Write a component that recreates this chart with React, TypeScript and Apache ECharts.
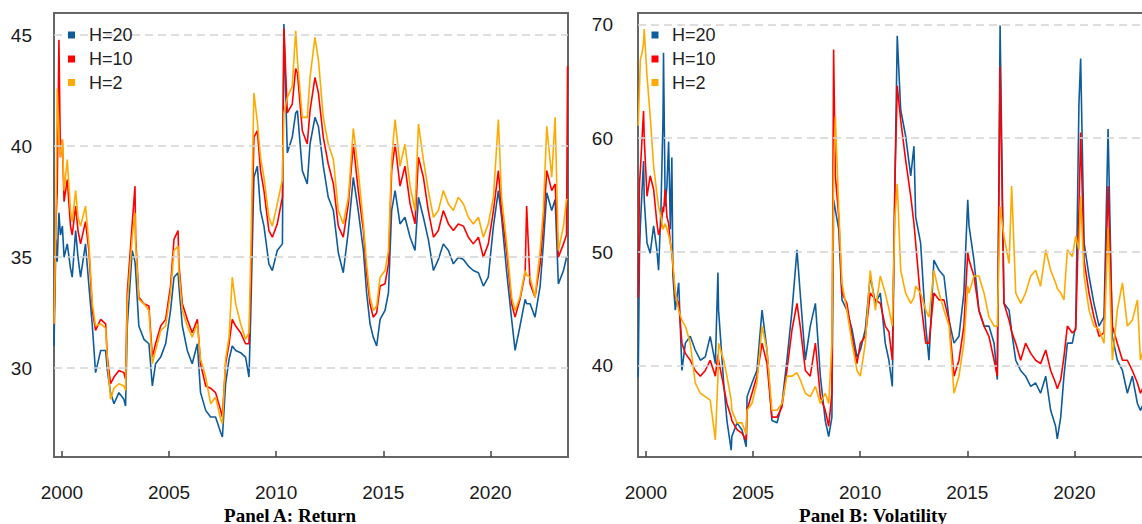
import React, { useEffect, useRef } from "react";
import * as echarts from "echarts";

// ---------- Panel A: Return ----------
const yearsA = [
  1999.63, 1999.72, 1999.78, 1999.86, 1999.93, 2000.02, 2000.1, 2000.25, 2000.4, 2000.48, 2000.64, 2000.75, 2000.87,
  2001.1, 2001.26, 2001.42, 2001.57, 2001.81, 2002.04, 2002.12, 2002.27, 2002.43, 2002.66, 2002.89, 2002.97, 2003.05,
  2003.28, 2003.41, 2003.44, 2003.59, 2003.83, 2004.06, 2004.22, 2004.37, 2004.61, 2004.84, 2005.07, 2005.23, 2005.42,
  2005.46, 2005.62, 2005.85, 2006.08, 2006.32, 2006.47, 2006.71, 2006.94, 2007.17, 2007.41, 2007.49, 2007.64, 2007.8,
  2007.95, 2008.11, 2008.34, 2008.57, 2008.73, 2008.81, 2008.96, 2009.12, 2009.27, 2009.43, 2009.66, 2009.82, 2010.05,
  2010.29, 2010.36, 2010.52, 2010.75, 2010.91, 2010.99, 2011.22, 2011.45, 2011.58, 2011.81, 2011.97, 2012.2, 2012.43,
  2012.67, 2012.9, 2013.13, 2013.37, 2013.6, 2013.83, 2014.07, 2014.22, 2014.38, 2014.53, 2014.69, 2014.85, 2015.08,
  2015.24, 2015.39, 2015.55, 2015.78, 2016.01, 2016.25, 2016.48, 2016.64, 2016.87, 2017.1, 2017.34, 2017.57, 2017.8,
  2018.04, 2018.27, 2018.5, 2018.74, 2018.97, 2019.2, 2019.44, 2019.67, 2019.9, 2020.14, 2020.37, 2020.52, 2020.76,
  2020.99, 2021.15, 2021.38, 2021.62, 2021.69, 2021.85, 2022.08, 2022.32, 2022.47, 2022.63, 2022.86, 2023.02, 2023.17,
  2023.41, 2023.55, 2023.6,
];
const retH20 = [
  31.0, 35.8, 34.8, 37.0, 36.0, 36.4, 35.0, 35.6, 34.5, 34.1, 36.2, 35.0, 34.1,
  35.6, 33.7, 31.9, 29.8, 30.8, 30.8, 29.9, 28.9, 28.4, 28.9, 28.6, 28.3, 31.9,
  35.3, 34.8, 34.4, 31.9, 31.3, 31.1, 29.2, 30.2, 30.5, 31.1, 32.6, 34.1, 34.3,
  33.7, 31.9, 30.8, 30.2, 31.1, 28.9, 28.1, 27.8, 27.8, 27.1, 26.9, 29.3, 30.4,
  31.0, 30.8, 30.7, 30.5, 29.6, 32.3, 38.6, 39.1, 37.1, 36.4, 34.7, 34.4, 35.3,
  35.6, 45.5, 39.7, 40.4, 41.5, 41.6, 38.9, 38.3, 40.1, 41.3, 40.9, 39.1, 37.7,
  37.1, 35.2, 34.3, 36.2, 38.6, 37.1, 35.3, 33.4, 32.0, 31.4, 31.0, 32.2, 32.6,
  33.4, 37.1, 38.0, 36.5, 36.8, 35.9, 35.3, 37.7, 36.8, 35.8, 34.4, 34.9, 35.6,
  35.3, 34.7, 35.0, 34.9, 34.6, 34.4, 34.3, 33.7, 34.1, 36.4, 38.0, 36.8, 34.3,
  32.2, 30.8, 31.9, 33.1, 32.9, 32.9, 32.3, 33.7, 35.6, 37.9, 37.1, 37.6, 33.8,
  34.4, 35.0, 35.0,
];
const retH10 = [
  32.0, 36.5, 38.0, 44.8, 39.5, 40.3, 37.5, 38.5, 36.4, 36.0, 37.3, 36.2, 35.6,
  36.6, 35.3, 32.6, 31.7, 32.2, 32.0, 30.5, 29.3, 29.6, 29.9, 29.8, 29.5, 33.4,
  36.5, 38.2, 35.9, 33.2, 32.9, 32.8, 30.5, 31.1, 31.9, 32.2, 33.7, 35.8, 36.2,
  34.7, 32.9, 32.2, 31.6, 32.2, 30.2, 29.2, 29.1, 28.9, 28.1, 27.8, 30.2, 31.1,
  32.2, 31.9, 31.6, 31.1, 31.1, 33.5, 40.4, 40.7, 38.9, 38.0, 36.2, 35.9, 36.5,
  37.7, 45.3, 41.5, 41.9, 43.5, 43.3, 40.7, 40.1, 41.6, 43.1, 42.4, 40.4, 39.2,
  38.3, 36.4, 35.9, 37.4, 40.1, 38.0, 36.2, 34.3, 32.9, 32.3, 32.5, 33.7, 33.8,
  34.7, 38.9, 40.1, 38.2, 39.1, 37.4, 36.5, 39.5, 38.6, 37.1, 35.9, 36.2, 37.1,
  36.5, 36.2, 36.5, 36.4, 35.9, 35.6, 35.9, 35.0, 35.6, 37.1, 38.9, 37.1, 35.2,
  32.9, 32.3, 33.1, 34.3, 37.3, 33.8, 33.2, 34.7, 36.5, 38.9, 38.0, 38.3, 35.0,
  35.6, 36.0, 43.6,
];
const retH2 = [
  32.0, 36.5, 42.6, 40.5, 39.5, 40.3, 38.0, 39.4, 37.1, 36.6, 38.0, 36.8, 36.4,
  37.3, 35.6, 32.9, 31.9, 32.0, 31.8, 30.4, 28.6, 29.1, 29.3, 29.2, 29.0, 32.9,
  35.9, 37.0, 35.6, 33.1, 32.9, 32.6, 30.2, 30.8, 31.7, 31.9, 33.4, 35.3, 35.5,
  34.4, 32.6, 31.9, 31.4, 32.0, 30.4, 29.6, 28.4, 28.7, 27.7, 27.5, 30.4, 31.4,
  34.1, 32.9, 32.0, 31.3, 31.6, 34.9, 42.4, 41.1, 39.5, 38.6, 36.8, 36.4, 37.4,
  38.5, 41.5, 42.2, 42.7, 45.2, 43.9, 41.3, 41.3, 43.1, 44.9, 43.9, 41.3, 40.1,
  39.4, 37.1, 36.5, 37.7, 40.8, 38.9, 36.5, 34.7, 33.2, 32.6, 32.8, 34.1, 34.4,
  35.3, 39.4, 41.2, 39.1, 40.1, 38.2, 37.1, 41.0, 39.4, 38.0, 36.8, 37.1, 38.0,
  37.4, 37.1, 37.7, 37.4, 36.8, 36.5, 36.8, 35.9, 36.5, 37.7, 41.2, 37.7, 35.6,
  33.2, 32.6, 33.2, 34.4, 34.2, 34.1, 33.2, 35.3, 37.1, 40.9, 38.6, 41.3, 35.3,
  36.4, 37.6, 37.6,
];

// ---------- Panel B: Volatility ----------
const yearsB = [
  1999.64, 1999.7, 1999.74, 1999.82, 1999.89, 1999.92, 2000.05, 2000.2, 2000.36, 2000.51, 2000.59, 2000.7, 2000.8,
  2000.82, 2000.9, 2000.98, 2001.06, 2001.14, 2001.21, 2001.26, 2001.37, 2001.53, 2001.68, 2001.84, 2002.07, 2002.3,
  2002.54, 2002.77, 2003.0, 2003.24, 2003.36, 2003.39, 2003.63, 2003.78, 2003.98, 2004.01, 2004.25, 2004.48, 2004.68,
  2004.72, 2004.95, 2005.18, 2005.42, 2005.65, 2005.88, 2006.12, 2006.35, 2006.58, 2006.82, 2007.05, 2007.2, 2007.44,
  2007.67, 2007.91, 2008.14, 2008.37, 2008.53, 2008.68, 2008.76, 2008.84, 2009.0, 2009.15, 2009.38, 2009.62, 2009.85,
  2010.01, 2010.24, 2010.47, 2010.71, 2010.94, 2011.17, 2011.34, 2011.5, 2011.62, 2011.73, 2011.89, 2012.12, 2012.36,
  2012.51, 2012.59, 2012.82, 2013.06, 2013.21, 2013.44, 2013.68, 2013.91, 2014.15, 2014.38, 2014.61, 2014.84, 2015.02,
  2015.08, 2015.31, 2015.54, 2015.78, 2016.01, 2016.25, 2016.4, 2016.53, 2016.71, 2016.95, 2017.07, 2017.26, 2017.49,
  2017.72, 2017.96, 2018.19, 2018.42, 2018.66, 2018.89, 2019.12, 2019.2, 2019.36, 2019.51, 2019.67, 2019.9, 2020.06,
  2020.21, 2020.29, 2020.45, 2020.68, 2020.91, 2021.15, 2021.38, 2021.57, 2021.77, 2022.0, 2022.24, 2022.47, 2022.7,
  2022.94, 2023.08, 2023.3, 2023.55,
];
const volH20 = [
  39.0, 50.0, 52.3, 55.5, 58.0, 54.6, 50.8, 49.9, 52.3, 50.2, 48.4, 53.7, 62.0,
  67.5, 54.0, 55.8, 59.7, 52.0, 58.3, 47.9, 44.9, 47.3, 39.6, 42.0, 42.6, 41.4,
  40.5, 40.8, 42.6, 40.2, 48.2, 44.9, 38.5, 35.2, 32.6, 33.8, 35.0, 34.4, 32.9,
  37.3, 38.5, 39.6, 44.9, 41.4, 35.2, 35.0, 36.7, 40.5, 44.9, 50.2, 46.4, 40.5,
  43.5, 45.5, 39.1, 35.2, 33.8, 35.5, 54.6, 53.7, 52.0, 45.8, 44.9, 43.2, 40.8,
  41.4, 43.2, 47.9, 45.5, 46.4, 42.0, 40.5, 38.2, 55.8, 69.0, 62.5, 60.2, 56.7,
  59.3, 53.1, 50.8, 43.5, 40.5, 49.3, 48.4, 47.9, 44.0, 42.0, 42.6, 46.4, 54.6,
  52.3, 49.3, 44.9, 43.5, 43.5, 42.0, 38.8, 69.9, 45.5, 44.9, 43.0, 40.5, 39.6,
  39.1, 38.2, 38.5, 37.6, 39.1, 36.1, 34.7, 33.6, 35.5, 39.1, 42.0, 42.0, 43.5,
  63.0, 67.0, 50.8, 47.9, 45.5, 43.5, 44.3, 60.8, 42.6, 40.5, 39.6, 37.6, 39.1,
  36.7, 36.1, 37.0, 38.0,
];
const volH10 = [
  46.0, 56.0, 57.2, 60.0, 62.4, 60.0, 54.9, 56.7, 55.5, 52.6, 51.5, 52.3, 54.0,
  53.5, 55.5, 53.1, 52.5, 50.8, 50.0, 48.7, 46.1, 45.5, 42.0, 41.1, 40.5, 39.6,
  39.1, 39.6, 40.5, 39.1, 41.0, 40.5, 38.2, 36.7, 35.5, 35.2, 34.4, 34.1, 33.5,
  36.1, 37.6, 39.1, 42.0, 40.2, 35.5, 35.5, 36.4, 39.6, 43.2, 45.5, 43.5, 39.6,
  39.1, 42.0, 37.3, 36.1, 34.7, 37.6, 67.8, 56.7, 53.1, 46.4, 45.5, 42.6, 40.2,
  42.0, 42.6, 46.4, 45.8, 45.5, 43.5, 43.0, 40.5, 56.1, 64.6, 61.6, 58.1, 54.9,
  52.5, 50.8, 45.8, 42.0, 42.0, 46.4, 45.8, 45.8, 44.0, 39.1, 40.5, 43.5, 50.0,
  49.3, 47.9, 44.9, 43.5, 42.6, 40.5, 39.1, 66.3, 45.5, 44.0, 43.0, 42.0, 40.5,
  42.0, 41.1, 40.5, 40.2, 41.4, 39.6, 38.5, 38.0, 38.8, 40.8, 43.5, 42.9, 43.2,
  53.7, 60.5, 49.3, 46.4, 44.3, 42.6, 42.9, 55.8, 43.5, 42.0, 40.5, 40.5, 39.6,
  38.5, 37.6, 38.5, 39.0,
];
const volH2 = [
  61.1, 64.5, 66.9, 67.5, 68.4, 69.6, 65.5, 61.9, 57.5, 55.2, 54.0, 53.1, 52.0,
  52.0, 52.5, 52.0, 51.5, 50.8, 50.0, 49.0, 46.4, 44.9, 44.0, 43.5, 42.0, 38.5,
  37.6, 37.3, 37.0, 33.5, 39.0, 42.0, 40.5, 39.1, 37.0, 36.1, 35.0, 35.0, 34.0,
  36.1, 36.7, 38.5, 43.5, 41.4, 36.1, 36.1, 36.7, 39.1, 39.1, 39.4, 38.8, 37.6,
  37.3, 38.2, 36.7, 37.6, 36.7, 42.0, 56.7, 61.9, 53.7, 47.3, 44.9, 42.0, 39.6,
  39.1, 42.0, 48.4, 44.9, 47.9, 46.4, 45.0, 43.5, 53.1, 56.0, 48.4, 46.4, 45.5,
  46.0, 47.0, 46.4, 44.9, 44.3, 48.4, 46.4, 44.9, 43.5, 37.6, 39.1, 42.0, 47.0,
  46.4, 47.9, 47.9, 46.4, 44.3, 43.5, 43.5, 54.0, 51.4, 49.0, 55.8, 46.4, 45.5,
  46.4, 47.9, 48.4, 47.0, 50.2, 48.4, 47.3, 46.8, 46.4, 45.8, 50.2, 49.6, 51.4,
  50.2, 54.9, 47.9, 44.9, 43.5, 43.2, 42.0, 52.1, 40.5, 44.9, 47.3, 43.5, 44.0,
  45.8, 40.5, 42.0, 43.0,
];

const seriesNames = ["H=20", "H=10", "H=2"];
const seriesColors = ["#0E5C9C", "#FF0000", "#FFAA00"];
const xTickValues = [2000, 2005, 2010, 2015, 2020];
const retTicks = [30, 35, 40, 45];
const volTicks = [40, 50, 60, 70];
const panelTitles = ["Panel A: Return", "Panel B: Volatility"];

const X_MIN = 1999.63;
const X_MAX = 2023.62;

function pairs(xs: number[], ys: number[]) {
  return xs.map((x, i) => [x, ys[i]]);
}

export default function App() {
  const ref = useRef<HTMLDivElement>(null);

  useEffect(() => {
    if (!ref.current) return;
    const chart = echarts.init(ref.current, null, { renderer: "svg" });

    const labelFont = { fontFamily: "Liberation Sans", fontSize: 19, color: "#1a1a1a" };
    const grids = [
      { left: 54, top: 13, width: 514, height: 444, show: true, borderColor: "#666", borderWidth: 2, backgroundColor: "transparent" },
      { left: 638, top: 13, width: 514, height: 444, show: true, borderColor: "#666", borderWidth: 2, backgroundColor: "transparent" },
    ];
    const makeX = (gi: number) => ({
      type: "value",
      gridIndex: gi,
      min: X_MIN,
      max: X_MAX,
      axisLine: { show: false },
      splitLine: { show: false },
      axisTick: { show: true, inside: true, length: 6, customValues: xTickValues, lineStyle: { color: "#444", width: 1.5 } },
      axisLabel: { ...labelFont, margin: 26, customValues: xTickValues, formatter: (v: number) => String(Math.round(v)) },
    });
    const makeY = (gi: number, min: number, max: number, ticks: number[], margin: number) => ({
      type: "value",
      gridIndex: gi,
      min,
      max,
      axisLine: { show: false },
      axisTick: { show: false },
      splitLine: { show: false },
      axisLabel: { ...labelFont, margin, customValues: ticks, formatter: (v: number) => String(Math.round(v)) },
    });

    const gridLineSeries = (gi: number, ticks: number[]) => ({
      type: "line",
      xAxisIndex: gi,
      yAxisIndex: gi,
      data: [],
      silent: true,
      z: 1,
      markLine: {
        silent: true,
        symbol: ["none", "none"],
        label: { show: false },
        lineStyle: { type: [8, 5], color: "#d4d4d4", width: 1.5 },
        data: ticks.map((t) => ({ yAxis: t })),
      },
    });

    const retData = [retH20, retH10, retH2];
    const volData = [volH20, volH10, volH2];
    const lineSeries: any[] = [];
    [0, 1, 2].forEach((k) => {
      lineSeries.push({
        name: seriesNames[k] + " A",
        type: "line",
        xAxisIndex: 0,
        yAxisIndex: 0,
        showSymbol: false,
        symbol: "none",
        z: 2 + k,
        lineStyle: { color: seriesColors[k], width: 1.6 },
        data: pairs(yearsA, retData[k]),
      });
    });
    [0, 1, 2].forEach((k) => {
      lineSeries.push({
        name: seriesNames[k] + " B",
        type: "line",
        xAxisIndex: 1,
        yAxisIndex: 1,
        showSymbol: false,
        symbol: "none",
        z: 2 + k,
        lineStyle: { color: seriesColors[k], width: 1.6 },
        data: pairs(yearsB, volData[k]),
      });
    });

    const legendGraphics: any[] = [];
    const legendPos = [
      { sx: 68, tx: 89 },
      { sx: 651.5, tx: 672 },
    ];
    const legendY = [35, 59, 82.5];
    legendPos.forEach((p) => {
      seriesNames.forEach((n, k) => {
        legendGraphics.push({
          type: "rect",
          shape: { x: p.sx, y: legendY[k] - 3.5, width: 7, height: 7 },
          style: { fill: seriesColors[k] },
          z: 100,
        });
        legendGraphics.push({
          type: "text",
          x: p.tx,
          y: legendY[k],
          z: 100,
          style: { text: n, font: '18px "Liberation Sans"', fill: "#222", align: "left", verticalAlign: "middle" },
        });
      });
    });
    const titleGraphics = [
      { type: "text", x: 290, y: 515, style: { text: panelTitles[0], font: 'bold 19px "Liberation Serif"', fill: "#000", align: "center", verticalAlign: "middle" } },
      { type: "text", x: 873, y: 515, style: { text: panelTitles[1], font: 'bold 19px "Liberation Serif"', fill: "#000", align: "center", verticalAlign: "middle" } },
    ];

    chart.setOption({
      animation: false,
      backgroundColor: "#fff",
      grid: grids,
      xAxis: [makeX(0), makeX(1)],
      yAxis: [makeY(0, 26, 46, retTicks, 22), makeY(1, 32, 71, volTicks, 25)],
      series: [gridLineSeries(0, retTicks), gridLineSeries(1, volTicks), ...lineSeries],
      graphic: [...legendGraphics, ...titleGraphics],
    });

    return () => chart.dispose();
  }, []);

  return (
    <div style={{ position: "absolute", left: 0, top: 0, width: 1142, height: 524, overflow: "hidden", background: "#fff" }}>
      <div ref={ref} style={{ width: 1160, height: 524 }} />
    </div>
  );
}
